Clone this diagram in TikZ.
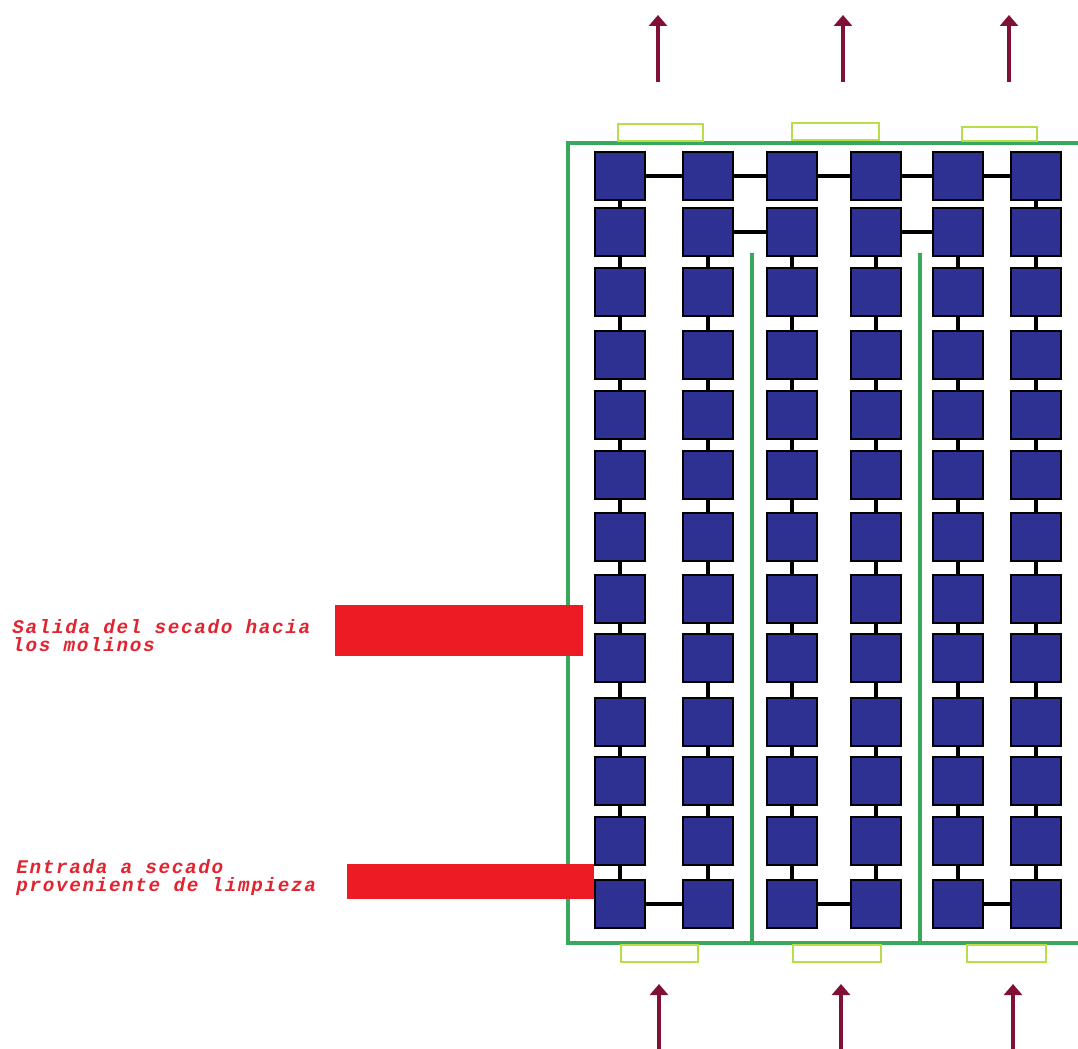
\documentclass[tikz,border=0pt]{standalone}
\usepackage{fontspec}
\usetikzlibrary{arrows.meta,positioning}
\newfontfamily\notefont[LetterSpace=8.5]{Liberation Mono}
\definecolor{trayblue}{RGB}{46,49,146}
\definecolor{wallgreen}{RGB}{58,168,92}
\definecolor{ventgreen}{RGB}{182,222,70}
\definecolor{flowred}{RGB}{128,16,56}
\definecolor{ductred}{RGB}{237,28,36}
\definecolor{notered}{RGB}{226,36,48}

\begin{document}
\begin{tikzpicture}[x=0.02cm,y=-0.02cm,
  tray/.style={draw=black,fill=trayblue,line width=1.1pt,inner sep=0pt,
    minimum width=1cm,minimum height=0.96cm},
  link/.style={line width=2.1pt},
  wall/.style={draw=wallgreen,line width=2.3pt},
  vent/.style={draw=ventgreen,line width=1.6pt},
  flow/.style={draw=flowred,line width=2.8pt,-{Triangle[width=0.36cm,length=0.22cm]}},
  duct/.style={fill=ductred},
  note/.style={text=notered,align=left,inner sep=0pt,
    font=\notefont\bfseries\itshape\fontsize{11pt}{10.3pt}\selectfont}]
  \useasboundingbox (0,0) rectangle (1078,1048);

  \draw[wall] (1090,143) -- (568,143) -- (568,943) -- (1090,943);
  \draw[wall] (752,253) -- (752,943);
  \draw[wall] (920,253) -- (920,943);

  \foreach \x [count=\c] in {620,708,792,876,958,1036}
    \foreach \y [count=\r] in {176,232,292,355,415,475,537,599,658,722,781,841,904}
      \node[tray] (s-\c-\r) at (\x,\y) {};

  \draw[link] (s-1-1) -- (s-1-2);
  \draw[link] (s-6-1) -- (s-6-2);
  \foreach \c in {1,...,6}
    \foreach \r [count=\nx from 3] in {2,...,12}
      \draw[link] (s-\c-\r) -- (s-\c-\nx);
  \foreach \a/\b in {1/2,2/3,3/4,4/5,5/6}
    \draw[link] (s-\a-1) -- (s-\b-1);
  \foreach \a/\b in {2/3,4/5}
    \draw[link] (s-\a-2) -- (s-\b-2);
  \foreach \a/\b in {1/2,3/4,5/6}
    \draw[link] (s-\a-13) -- (s-\b-13);

  \draw[vent] (618,124) rectangle (703,141);
  \draw[vent] (792,123) rectangle (879,140);
  \draw[vent] (962,127) rectangle (1037,141);
  \draw[vent] (621,945) rectangle (698,962);
  \draw[vent] (793,945) rectangle (881,962);
  \draw[vent] (967,945) rectangle (1046,962);

  \foreach \x [count=\i] in {658,843,1009} {
    \coordinate (out-\i) at (\x,82);
    \coordinate (up-\i) at (\x,15);
    \draw[flow] (out-\i) -- (up-\i);
  }
  \foreach \x [count=\i] in {659,841,1013} {
    \coordinate (in-\i) at (\x,1050);
    \coordinate (top-\i) at (\x,984);
    \draw[flow] (in-\i) -- (top-\i);
  }

  \fill[duct] (335,605) rectangle (583,656);
  \fill[duct] (347,864) rectangle (594,899);

  \node[note,anchor=north west] (salida) at (12,619) {Salida del secado hacia\\los molinos};
  \node[note,anchor=north west] (entrada) at (16,859) {Entrada a secado\\proveniente de limpieza};
\end{tikzpicture}
\end{document}
